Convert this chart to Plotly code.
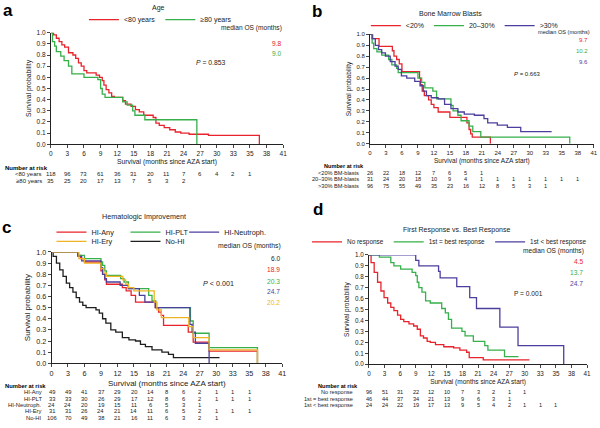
import plotly.graph_objects as go

W, H = 600, 428
FONT = "Liberation Sans, Arial, sans-serif"
RED, GREEN, BLUE, ORANGE, BLACK = "#e8232b", "#35b04a", "#4b3f9e", "#f0b323", "#1e1e1e"

# x axis ticks (positions in months, labels as printed)
tick_vals = list(range(0, 43, 3))
tick_text = ["0", "3", "6", "9", "12", "15", "18", "21", "24", "27", "30", "33", "35", "38", "41"]
risk_times = list(range(0, 42, 3))

# ---- panel a: Age
a_lt80_t = [0, 0.5, 1.0, 1.5, 2.0, 2.5, 3.2, 4.0, 4.5, 5.0, 5.5, 6.0, 6.5, 8.2, 8.8, 9.3, 9.6, 10.0, 10.5,
            11.0, 11.5, 13.0, 13.5, 14.5, 15.3, 16.0, 16.8, 18.5, 19.0, 19.6, 20.5, 21.5, 22.5, 23.5, 25.0,
            28.5, 37.7]
a_lt80_s = [1.0, 0.98, 0.95, 0.92, 0.89, 0.87, 0.82, 0.80, 0.77, 0.73, 0.70, 0.66, 0.64, 0.62, 0.60, 0.57,
            0.53, 0.49, 0.46, 0.43, 0.42, 0.39, 0.36, 0.34, 0.31, 0.29, 0.26, 0.24, 0.19, 0.17, 0.15, 0.13,
            0.11, 0.10, 0.09, 0.08, 0.0]
a_ge80_t = [0, 0.3, 0.7, 1.0, 1.8, 2.4, 3.2, 3.8, 6.0, 8.5, 9.0, 9.3, 9.8, 13.0, 13.8, 14.8, 15.2, 17.0, 26.4]
a_ge80_s = [1.0, 0.92, 0.88, 0.83, 0.79, 0.75, 0.70, 0.63, 0.60, 0.58, 0.50, 0.45, 0.42, 0.38, 0.35, 0.30,
            0.26, 0.22, 0.0]
a_risk_lt80 = [118, 96, 73, 61, 36, 31, 20, 11, 7, 6, 4, 2, 1]
a_risk_ge80 = [35, 25, 20, 17, 13, 7, 5, 3, 2]

# ---- panel b: Bone marrow blasts
b_lt20_t = [0, 0.5, 1.7, 4.2, 4.5, 5.0, 5.5, 6.0, 6.5, 9.3, 9.5, 9.8, 10.2, 11.0, 11.5, 12.0, 12.8, 15.0,
            18.2, 18.6, 18.9, 19.2, 22.6]
b_lt20_s = [1.0, 0.96, 0.89, 0.85, 0.80, 0.77, 0.73, 0.66, 0.66, 0.60, 0.54, 0.48, 0.44, 0.40, 0.36, 0.33,
            0.29, 0.24, 0.19, 0.13, 0.09, 0.06, 0.0]
b_2030_t = [0, 0.4, 0.7, 1.3, 2.2, 3.5, 4.1, 5.0, 5.3, 9.0, 9.7, 10.3, 11.8, 12.5, 15.2, 15.6, 16.5, 17.1,
            18.6, 19.3, 20.8, 37.5]
b_2030_s = [1.0, 0.92, 0.87, 0.84, 0.81, 0.77, 0.72, 0.69, 0.65, 0.60, 0.56, 0.51, 0.48, 0.41, 0.35, 0.30,
            0.26, 0.21, 0.16, 0.11, 0.06, 0.0]
b_gt30_t = [0, 0.4, 1.0, 1.6, 2.2, 2.9, 3.8, 4.7, 5.3, 5.9, 6.9, 8.4, 9.4, 10.0, 10.6, 11.5, 12.8, 14.0,
            15.2, 16.5, 17.7, 19.6, 21.4, 22.1, 23.9, 25.8, 28.3, 34.1]
b_gt30_s = [1.0, 0.96, 0.90, 0.86, 0.83, 0.80, 0.75, 0.71, 0.68, 0.62, 0.60, 0.57, 0.53, 0.48, 0.44, 0.42,
            0.41, 0.36, 0.32, 0.29, 0.27, 0.26, 0.23, 0.19, 0.17, 0.15, 0.11, 0.11]
b_risk_lt20 = [26, 22, 18, 12, 7, 6, 5, 1]
b_risk_2030 = [31, 24, 20, 18, 10, 9, 4, 1, 1, 1, 1, 1, 1, 1]
b_risk_gt30 = [96, 75, 55, 49, 35, 23, 16, 12, 8, 5, 3, 1]

# ---- panel c: Hematologic improvement
c_any_t = [0, 4.8, 5.3, 6.0, 9.0, 9.3, 9.7, 10.0, 12.9, 13.6, 14.5, 15.3, 18.9, 19.5, 20.0, 20.4, 24.9,
           25.8, 28.7, 37.5]
c_any_s = [1.0, 0.97, 0.94, 0.91, 0.83, 0.80, 0.75, 0.71, 0.68, 0.65, 0.61, 0.55, 0.50, 0.46, 0.43, 0.34,
           0.28, 0.19, 0.11, 0.0]
c_plt_t = [0, 4.8, 6.0, 9.0, 9.3, 9.7, 10.0, 12.6, 13.2, 14.0, 17.7, 18.3, 19.0, 25.3, 25.8, 28.7, 37.5]
c_plt_s = [1.0, 0.97, 0.94, 0.91, 0.88, 0.83, 0.79, 0.76, 0.73, 0.67, 0.61, 0.56, 0.50, 0.38, 0.27, 0.14, 0.0]
c_neu_t = [0, 4.8, 5.5, 9.0, 9.3, 9.7, 10.0, 12.5, 13.0, 14.0, 16.0, 17.0, 18.9, 25.2, 25.6, 26.2, 28.7]
c_neu_s = [1.0, 0.96, 0.92, 0.86, 0.80, 0.76, 0.73, 0.70, 0.70, 0.67, 0.61, 0.55, 0.50, 0.35, 0.28, 0.18, 0.0]
c_ery_t = [0, 5.0, 6.0, 9.0, 9.5, 10.0, 13.0, 13.5, 14.0, 15.0, 18.7, 19.2, 20.0, 25.0, 25.8, 26.5, 28.7, 37.5]
c_ery_s = [1.0, 0.94, 0.90, 0.85, 0.81, 0.78, 0.75, 0.71, 0.68, 0.65, 0.55, 0.48, 0.41, 0.33, 0.23, 0.23,
           0.12, 0.0]
c_nohi_t = [0, 0.3, 0.9, 1.5, 2.1, 2.7, 3.3, 3.9, 4.5, 5.1, 5.7, 6.3, 8.1, 8.7, 9.3, 9.9, 10.8, 11.7, 12.9,
            14.1, 15.3, 16.2, 17.1, 18.3, 20.1, 21.3, 22.2, 30.6]
c_nohi_s = [1.0, 0.96, 0.90, 0.84, 0.78, 0.72, 0.68, 0.64, 0.59, 0.55, 0.52, 0.50, 0.48, 0.45, 0.40, 0.36,
            0.30, 0.28, 0.23, 0.21, 0.20, 0.17, 0.15, 0.12, 0.10, 0.08, 0.05, 0.05]
c_risk_any = [49, 49, 41, 37, 29, 20, 14, 8, 6, 2, 1, 1, 1]
c_risk_plt = [33, 33, 30, 26, 29, 17, 12, 8, 6, 2, 1, 1, 1]
c_risk_neu = [24, 24, 20, 19, 15, 11, 6, 5, 3, 1]
c_risk_ery = [31, 31, 26, 24, 21, 14, 11, 6, 5, 2, 1, 1, 1]
c_risk_nohi = [106, 70, 49, 38, 21, 16, 11, 6, 3, 2, 1]

# ---- panel d: First vs best response
d_nr_t = [0, 0.4, 1.0, 1.65, 2.3, 2.9, 3.6, 4.2, 4.8, 5.5, 6.1, 6.7, 7.7, 8.6, 9.3, 9.9, 10.5, 11.2, 11.8,
          12.8, 14.4, 16.3, 17.5, 18.8, 19.3, 22.0, 30.9]
d_nr_s = [1.0, 0.93, 0.84, 0.75, 0.67, 0.61, 0.56, 0.52, 0.49, 0.45, 0.41, 0.39, 0.37, 0.35, 0.32, 0.26,
          0.24, 0.21, 0.20, 0.18, 0.16, 0.15, 0.13, 0.11, 0.06, 0.04, 0.04]
d_eq_t = [0, 2.0, 4.2, 4.8, 6.1, 8.3, 9.0, 9.3, 9.6, 10.2, 10.9, 11.8, 14.0, 14.7, 15.3, 15.9, 17.9, 18.5,
          20.1, 22.3, 22.9, 26.1, 28.8]
d_eq_s = [1.0, 0.98, 0.93, 0.90, 0.87, 0.84, 0.81, 0.75, 0.70, 0.66, 0.58, 0.56, 0.51, 0.47, 0.41, 0.33,
          0.30, 0.26, 0.21, 0.17, 0.13, 0.07, 0.07]
d_lt_t = [0, 9.0, 9.6, 13.4, 13.7, 16.9, 19.4, 20.7, 25.2, 28.7, 37.5]
d_lt_s = [1.0, 0.95, 0.90, 0.85, 0.79, 0.71, 0.61, 0.51, 0.34, 0.17, 0.0]
d_risk_nr = [96, 51, 31, 22, 12, 10, 7, 3, 2, 1, 1]
d_risk_eq = [46, 44, 37, 34, 21, 13, 9, 6, 3, 1]
d_risk_lt = [24, 24, 22, 19, 17, 13, 9, 5, 4, 2, 1, 1, 1]


def px(x):
    return x / W


def py(y):
    return 1 - y / H


fig = go.Figure()

# axis boxes in pixels: (x0, x1, ytop, ybottom)
panels = {
    "1": dict(box=(49.3, 284, 29.3, 143.3), tick=6.5, title=6.8, risk=6.0),
    "2": dict(box=(371.7, 597.7, 31, 142.7), tick=6.0, title=6.5, risk=5.6),
    "3": dict(box=(50, 283, 253.3, 367), tick=7.2, title=8.0, risk=5.8),
    "4": dict(box=(370.7, 591, 256.3, 368), tick=6.3, title=6.5, risk=5.6),
}

curves = [
    ("1", "<80 years", a_lt80_t, a_lt80_s, RED, "legend", 1),
    ("1", "\u226580 years", a_ge80_t, a_ge80_s, GREEN, "legend", 2),
    ("2", "<20%", b_lt20_t, b_lt20_s, RED, "legend2", 1),
    ("2", "20\u201330%", b_2030_t, b_2030_s, GREEN, "legend2", 2),
    ("2", ">30%", b_gt30_t, b_gt30_s, BLUE, "legend2", 3),
    ("3", "No-HI", c_nohi_t, c_nohi_s, BLACK, "legend4", 2),
    ("3", "HI-Any", c_any_t, c_any_s, RED, "legend3", 1),
    ("3", "HI-PLT", c_plt_t, c_plt_s, GREEN, "legend3", 2),
    ("3", "HI-Neutroph.", c_neu_t, c_neu_s, BLUE, "legend6", 1),
    ("3", "HI-Ery", c_ery_t, c_ery_s, ORANGE, "legend4", 1),
    ("4", "No response", d_nr_t, d_nr_s, RED, "legend5", 1),
    ("4", "1st = best response", d_eq_t, d_eq_s, GREEN, "legend5", 2),
    ("4", "1st < best response", d_lt_t, d_lt_s, BLUE, "legend5", 3),
]

for pid, name, t, s, col, leg, rank in curves:
    sfx = "" if pid == "1" else pid
    fig.add_trace(go.Scatter(
        x=t, y=s, name=name, mode="lines", line=dict(color=col, width=1.3, shape="hv"),
        xaxis="x" + sfx, yaxis="y" + sfx, legend=leg, legendrank=rank,
    ))

layout = {}
for pid, p in panels.items():
    sfx = "" if pid == "1" else pid
    x0, x1, yt, yb = p["box"]
    layout["xaxis" + sfx] = dict(
        domain=[px(x0), px(x1)], range=[0, 42], anchor="y" + sfx,
        tickvals=tick_vals, ticktext=tick_text, ticks="outside", ticklen=3, tickwidth=0.8,
        showline=True, linecolor="#222", linewidth=0.8, showgrid=False, zeroline=False,
        tickfont=dict(size=p["tick"], color="#222"),
        title=dict(text="Survival (months since AZA start)", font=dict(size=p["title"], color="#222"),
                   standoff=3),
    )
    layout["yaxis" + sfx] = dict(
        domain=[py(yb), py(yt)], range=[0, 1.0], anchor="x" + sfx,
        dtick=0.1, tickformat=".1f", ticks="outside", ticklen=3, tickwidth=0.8,
        showline=True, linecolor="#222", linewidth=0.8, showgrid=False, zeroline=False,
        tickfont=dict(size=p["tick"], color="#222"),
        title=dict(text="Survival probability", font=dict(size=p["title"], color="#222"), standoff=4),
    )
    # grey frame line with ticks on the right side
    layout["yaxis" + str(int(pid) + 4)] = dict(
        overlaying="y" + sfx, side="right", anchor="x" + sfx, range=[0, 1.0], dtick=0.1,
        ticks="outside", ticklen=3, tickwidth=0.8, tickcolor="#888", showticklabels=False,
        showline=True, linecolor="#999", linewidth=0.8, showgrid=False, zeroline=False,
    )

legend_common = dict(orientation="h", bgcolor="rgba(0,0,0,0)", font=dict(size=7, color="#222"),
                     yanchor="middle", itemwidth=30, traceorder="normal")
c_font = dict(size=7.3, color="#222")
layout["legend"] = dict(legend_common, x=px(160), y=py(16), xanchor="center")
layout["legend2"] = dict(legend_common, x=px(467), y=py(22), xanchor="center")
layout["legend3"] = dict(legend_common, x=px(50), y=py(233), xanchor="left", entrywidth=29,
                         entrywidthmode="pixels", font=c_font)
layout["legend6"] = dict(legend_common, x=px(184), y=py(233), xanchor="left", font=c_font)
layout["legend4"] = dict(legend_common, x=px(50), y=py(242.5), xanchor="left", entrywidth=29,
                         entrywidthmode="pixels", font=c_font)
layout["legend5"] = dict(legend_common, x=px(596), y=py(243), xanchor="right", font=dict(size=6.4, color="#222"))

ann = []


def text(x, y, s, size=6.5, color="#222", anchor="center", bold=False):
    ann.append(dict(x=px(x), y=py(y), xref="paper", yref="paper", text=("<b>%s</b>" % s) if bold else s,
                    showarrow=False, xanchor=anchor, yanchor="middle",
                    font=dict(size=size, color=color, family=FONT)))


# panel letters
text(6, 7, "a", 17, "#000", bold=True)
text(318, 8, "b", 17, "#000", bold=True)
text(5, 228, "c", 17, "#000", bold=True)
text(319, 210, "d", 17, "#000", bold=True)

# panel titles
text(158, 4, "Age", 7)
text(453, 10, "Bone Marrow Blasts", 7)
text(143, 217.5, "Hematologic Improvement", 7.2)
text(459, 231, "First Response vs. Best Response", 7)

# median OS blocks
text(285, 25, "median OS (months)", 6.6, anchor="right")
for yy, v, c in [(40, "9.8", RED), (51, "9.0", GREEN)]:
    text(284, yy, v, 6.6, c, anchor="right")
text(596, 29, "median OS (months)", 5.6, anchor="right")
for yy, v, c in [(37, "9.7", RED), (48, "10.2", GREEN), (59, "9.6", BLUE)]:
    text(594, yy, v, 6.0, c, anchor="right")
text(284, 247, "median OS (months)", 6.8, anchor="right")
for yy, v, c in [(260, "6.0", BLACK), (271.5, "18.9", RED), (283, "20.3", GREEN), (294, "24.7", BLUE),
                 (305, "20.2", ORANGE)]:
    text(283, yy, v, 6.6, c, anchor="right")
text(590, 252, "median OS (months)", 6.6, anchor="right")
for yy, v, c in [(263, "4.5", RED), (274, "13.7", GREEN), (285, "24.7", BLUE)]:
    text(589, yy, v, 6.6, c, anchor="right")

# P values
text(211, 60, "<i>P</i> = 0.853", 6.8)
text(531, 71, "<i>P</i> = 0.663", 6.0)
text(219, 285, "<i>P</i> < 0.001", 7.2)
text(532, 296, "P = 0.001", 6.6)

# numbers at risk
risk_tables = [
    ("1", 1, 167.5, 42, [("<80 years", a_risk_lt80, 174), ("\u226580 years", a_risk_ge80, 181)]),
    ("2", 323, 165.5, 363, [("<20% BM-blasts", b_risk_lt20, 172.5), ("20\u201330% BM-blasts", b_risk_2030, 179),
                            (">30% BM-blasts", b_risk_gt30, 185.5)]),
    ("3", 1, 390.5, 42, [("HI-Any", c_risk_any, 396.7), ("HI-PLT", c_risk_plt, 403),
                         ("HI-Neutroph.", c_risk_neu, 409.7), ("HI-Ery", c_risk_ery, 416),
                         ("No-HI", c_risk_nohi, 422.7)]),
    ("4", 317, 390, 357, [("No response", d_risk_nr, 396.5), ("1st = best response", d_risk_eq, 403),
                          ("1st < best response", d_risk_lt, 409.5)]),
]
for pid, hx, hy, lx, rows in risk_tables:
    sfx = "" if pid == "1" else pid
    size = panels[pid]["risk"]
    text(hx, hy, "Number at risk", size, "#000", anchor="left", bold=True)
    for label, vals, yy in rows:
        text(lx, yy, label, size, anchor="right")
        for tt, n in zip(risk_times, vals):
            ann.append(dict(x=tt, y=py(yy), xref="x" + sfx, yref="paper", text=str(n), showarrow=False,
                            xanchor="center", yanchor="middle", font=dict(size=size, color="#222", family=FONT)))

fig.update_layout(
    **layout,
    annotations=ann,
    width=W, height=H,
    margin=dict(l=0, r=0, t=0, b=0),
    paper_bgcolor="white", plot_bgcolor="white",
    font=dict(family=FONT, color="#222"),
    showlegend=True,
)

# page has a default 8px body margin; remove it so the figure fills the window
fig.write_html("out.html", config={"displayModeBar": False},
               post_script="document.body.style.margin='0';document.body.style.overflow='hidden';")
